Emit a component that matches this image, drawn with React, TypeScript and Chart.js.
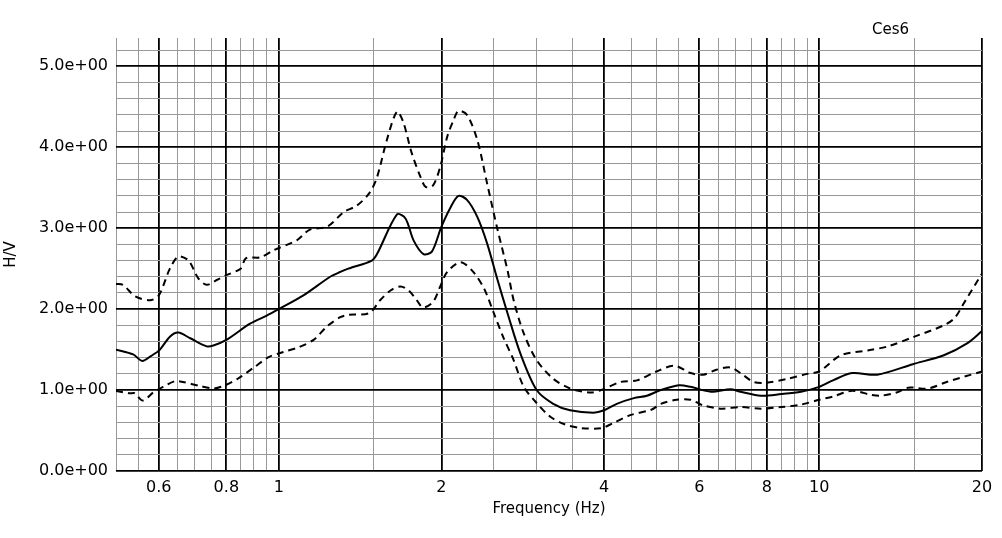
import React, { useEffect, useRef } from "react";
import { Chart, registerables } from "chart.js";

Chart.register(...registerables);

// ---- Data ----
const meanFreq = [0.5, 0.538, 0.559, 0.58, 0.601, 0.629, 0.652, 0.686, 0.736, 0.757, 0.8, 0.885, 0.95, 1.0, 1.111, 1.245, 1.3, 1.345, 1.487, 1.52, 1.655, 1.716, 1.776, 1.853, 1.92, 2.0, 2.08, 2.15, 2.23, 2.33, 2.43, 2.54, 2.65, 2.8, 3.0, 3.22, 3.46, 3.82, 4.0, 4.22, 4.54, 4.8, 5.09, 5.5, 5.78, 6.3, 6.85, 7.15, 7.8, 8.5, 9.25, 10.0, 10.6, 11.5, 12.8, 14.9, 17.0, 18.8, 20.0];
const meanHV = [1.5, 1.44, 1.36, 1.42, 1.49, 1.66, 1.71, 1.64, 1.54, 1.55, 1.62, 1.82, 1.92, 2.0, 2.17, 2.4, 2.46, 2.5, 2.6, 2.68, 3.17, 3.12, 2.85, 2.68, 2.71, 3.02, 3.26, 3.4, 3.35, 3.14, 2.81, 2.36, 1.95, 1.45, 1.0, 0.83, 0.75, 0.72, 0.75, 0.83, 0.9, 0.93, 1.0, 1.06, 1.04, 0.98, 1.01, 0.98, 0.93, 0.95, 0.98, 1.04, 1.12, 1.21, 1.19, 1.32, 1.43, 1.58, 1.73];

const upperFreq = [0.5, 0.515, 0.542, 0.578, 0.6, 0.629, 0.652, 0.681, 0.71, 0.736, 0.768, 0.8, 0.85, 0.87, 0.924, 0.98, 1.08, 1.14, 1.23, 1.32, 1.395, 1.47, 1.52, 1.585, 1.655, 1.7, 1.76, 1.83, 1.87, 1.93, 1.99, 2.05, 2.11, 2.15, 2.23, 2.33, 2.43, 2.54, 2.65, 2.72, 2.84, 3.0, 3.22, 3.46, 3.77, 3.95, 4.29, 4.6, 5.0, 5.4, 5.78, 6.1, 6.45, 6.84, 7.15, 7.56, 7.97, 8.75, 9.5, 10.0, 10.96, 12.3, 13.4, 15.0, 17.0, 17.8, 18.5, 20.0];
const upperHV = [2.31, 2.3, 2.16, 2.11, 2.17, 2.5, 2.65, 2.6, 2.38, 2.3, 2.36, 2.42, 2.5, 2.63, 2.64, 2.73, 2.85, 2.98, 3.02, 3.2, 3.28, 3.43, 3.63, 4.09, 4.44, 4.31, 3.94, 3.63, 3.51, 3.53, 3.76, 4.13, 4.35, 4.45, 4.4, 4.09, 3.55, 2.98, 2.48, 2.11, 1.7, 1.37, 1.14, 1.02, 0.97, 1.0, 1.1, 1.12, 1.23, 1.3, 1.21, 1.19, 1.25, 1.28, 1.21, 1.1, 1.09, 1.14, 1.2, 1.23, 1.43, 1.49, 1.54, 1.66, 1.8, 1.89, 2.07, 2.44];

const lowerFreq = [0.5, 0.53, 0.542, 0.56, 0.586, 0.611, 0.643, 0.665, 0.715, 0.757, 0.79, 0.84, 0.9, 0.96, 1.02, 1.09, 1.16, 1.23, 1.3, 1.345, 1.47, 1.54, 1.61, 1.68, 1.74, 1.8, 1.85, 1.93, 1.99, 2.05, 2.17, 2.29, 2.4, 2.5, 2.6, 2.72, 2.84, 3.0, 3.18, 3.37, 3.63, 3.95, 4.15, 4.47, 4.9, 5.09, 5.45, 5.78, 6.1, 6.6, 7.15, 7.8, 8.5, 9.25, 10.0, 10.6, 11.5, 12.5, 13.0, 13.9, 14.6, 15.9, 17.2, 20.0];
const lowerHV = [0.99, 0.96, 0.96, 0.87, 0.97, 1.04, 1.11, 1.1, 1.05, 1.02, 1.05, 1.14, 1.28, 1.41, 1.47, 1.53, 1.62, 1.79, 1.9, 1.93, 1.95, 2.11, 2.23, 2.28, 2.23, 2.11, 2.02, 2.09, 2.28, 2.46, 2.58, 2.46, 2.25, 1.95, 1.66, 1.37, 1.04, 0.84, 0.67, 0.58, 0.53, 0.53, 0.59, 0.69, 0.76, 0.83, 0.88, 0.88, 0.81, 0.77, 0.79, 0.77, 0.79, 0.82, 0.88, 0.92, 0.99, 0.94, 0.93, 0.97, 1.03, 1.02, 1.1, 1.23];

// ---- Ticks ----
const xGridValues = [0.5, 0.55, 0.6, 0.65, 0.7, 0.75, 0.8, 0.85, 0.9, 0.95, 1, 1.5, 2, 2.5, 3, 3.5, 4, 4.5, 5, 5.5, 6, 6.5, 7, 7.5, 8, 8.5, 9, 9.5, 10, 15, 20];
const xMajorValues = [0.6, 0.8, 1, 2, 4, 6, 8, 10, 20];
const xTickLabels = ["0.6", "0.8", "1", "2", "4", "6", "8", "10", "20"];
const yGridValues = [0, 0.2, 0.4, 0.6, 0.8, 1, 1.2, 1.4, 1.6, 1.8, 2, 2.2, 2.4, 2.6, 2.8, 3, 3.2, 3.4, 3.6, 3.8, 4, 4.2, 4.4, 4.6, 4.8, 5, 5.2];
const yMajorValues = [0, 1, 2, 3, 4, 5];

const stationName = "Ces6";
const xTitle = "Frequency (Hz)";
const yTitle = "H/V";

const FONT = "'DejaVu Sans', 'Open Sans', sans-serif";

const isMajor = (list: number[], v: number | undefined) =>
  v !== undefined && list.some((m) => Math.abs(m - v) < 1e-9);

const fmtExp = (v: number) =>
  v.toExponential(1).replace(/e([+-])(\d)$/, "e$10$2");

const toPoints = (xs: number[], ys: number[]) => xs.map((x, i) => ({ x, y: ys[i] }));

export default function App() {
  const canvasRef = useRef<HTMLCanvasElement | null>(null);

  useEffect(() => {
    document.body.style.margin = "0";
    const canvas = canvasRef.current;
    if (!canvas) return;

    const titlePlugin = {
      id: "stationTitle",
      afterDraw(chart: any) {
        const { ctx, chartArea } = chart;
        ctx.save();
        ctx.font = `15px ${FONT}`;
        ctx.fillStyle = "#000";
        ctx.textAlign = "left";
        ctx.textBaseline = "alphabetic";
        ctx.fillText(stationName, chartArea.right - 110, chartArea.top - 4);
        ctx.restore();
      },
    };

    const chart = new Chart(canvas, {
      type: "line",
      data: {
        datasets: [
          {
            label: "upper",
            data: toPoints(upperFreq, upperHV),
            borderColor: "#000",
            borderWidth: 2,
            borderDash: [7, 5],
            pointRadius: 0,
            tension: 0.3,
            fill: false,
          },
          {
            label: "mean",
            data: toPoints(meanFreq, meanHV),
            borderColor: "#000",
            borderWidth: 2,
            pointRadius: 0,
            tension: 0.3,
            fill: false,
          },
          {
            label: "lower",
            data: toPoints(lowerFreq, lowerHV),
            borderColor: "#000",
            borderWidth: 2,
            borderDash: [7, 5],
            pointRadius: 0,
            tension: 0.3,
            fill: false,
          },
        ],
      },
      options: {
        responsive: false,
        animation: false,
        layout: { padding: { left: 0, right: 20, top: 38, bottom: 0 } },
        plugins: {
          legend: { display: false },
          tooltip: { enabled: false },
        },
        scales: {
          x: {
            type: "logarithmic",
            min: 0.5,
            max: 20,
            afterBuildTicks: (scale: any) => {
              scale.ticks = xGridValues.map((v) => ({ value: v }));
            },
            afterFit: (scale: any) => {
              scale.height = 67;
            },
            ticks: {
              autoSkip: false,
              maxRotation: 0,
              padding: 7,
              color: "#000",
              font: { family: FONT, size: 16 },
              callback: (value: any) => {
                const i = xMajorValues.findIndex((m) => Math.abs(m - Number(value)) < 1e-9);
                return i >= 0 ? xTickLabels[i] : "";
              },
            },
            grid: {
              drawTicks: false,
              color: (ctx: any) => (isMajor(xMajorValues, ctx.tick?.value) ? "#000" : "#999"),
              lineWidth: (ctx: any) => (isMajor(xMajorValues, ctx.tick?.value) ? 1.8 : 1),
            },
            border: { display: false },
            title: {
              display: true,
              text: xTitle,
              color: "#000",
              font: { family: FONT, size: 15 },
              padding: { top: 0, bottom: 20 },
            },
          },
          y: {
            type: "linear",
            min: 0,
            max: 5.35,
            afterBuildTicks: (scale: any) => {
              scale.ticks = yGridValues.map((v) => ({ value: v }));
            },
            afterFit: (scale: any) => {
              scale.width = 116;
            },
            ticks: {
              autoSkip: false,
              padding: 8,
              color: "#000",
              font: { family: FONT, size: 16 },
              callback: (value: any) => {
                const v = Number(value);
                return isMajor(yMajorValues, v) ? fmtExp(v) : "";
              },
            },
            grid: {
              drawTicks: false,
              color: (ctx: any) => (isMajor(yMajorValues, ctx.tick?.value) ? "#000" : "#999"),
              lineWidth: (ctx: any) => (isMajor(yMajorValues, ctx.tick?.value) ? 1.8 : 1),
            },
            border: { display: false },
            title: {
              display: true,
              text: yTitle,
              color: "#000",
              font: { family: FONT, size: 15 },
              padding: { top: 2, bottom: 0 },
            },
          },
        },
      } as any,
      plugins: [titlePlugin],
    });

    return () => {
      chart.destroy();
    };
  }, []);

  return (
    <div style={{ width: 1002, height: 538, background: "#fff" }}>
      <canvas ref={canvasRef} width={1002} height={538} />
    </div>
  );
}
